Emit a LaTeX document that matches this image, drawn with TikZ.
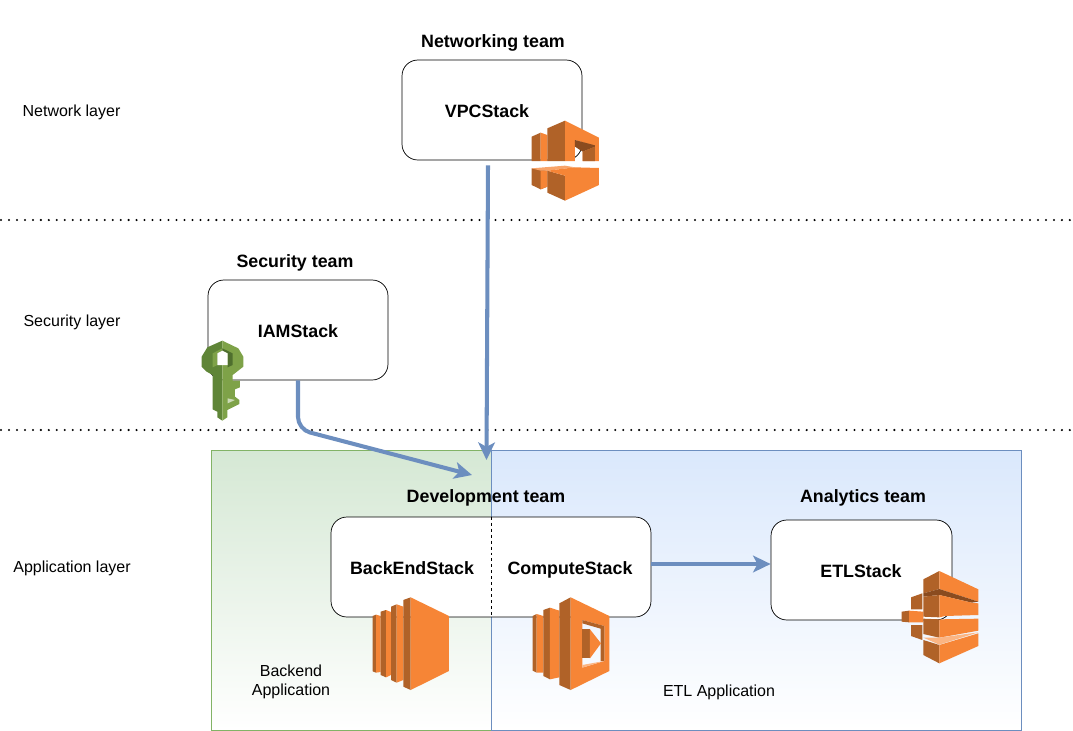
\documentclass[tikz,border=0pt]{standalone}
\usepackage{fontspec}
\setmainfont{Liberation Sans}
\usetikzlibrary{arrows.meta, calc}
\definecolor{my blue}{HTML}{6C8EBF}
\definecolor{my green}{HTML}{82B366}
\definecolor{my blue fill}{HTML}{DAE8FC}
\definecolor{my green fill}{HTML}{D5E8D4}
\definecolor{my orange}{HTML}{F68536}
\definecolor{my brown}{HTML}{B06228}
\definecolor{my roof}{HTML}{8A4B1F}
\definecolor{my pale}{HTML}{FBB583}
\definecolor{key light}{HTML}{7EA248}
\definecolor{key dark}{HTML}{5F8537}
\definecolor{key deep}{HTML}{4F6F2E}
\tikzset{
  appbox/.style={draw=#1, top color=#1 fill, bottom color=white, minimum height=5.6cm, inner sep=0pt},
  stackbox/.style={draw, fill=white, rounded corners=9pt, minimum height=2cm, inner sep=0pt},
  layerlabel/.style={font=\fontsize{9.1}{11}\selectfont, align=center},
  teamlabel/.style={font=\fontsize{10.15}{12}\selectfont\bfseries},
  deplink/.style={my blue, line width=2.3pt, -{Stealth[length=10pt, width=9.5pt, inset=2.5pt]}},
  layerline/.style={line width=1.3pt, line cap=round, dash pattern=on 0pt off 4.54pt},
  icon/.style={x=0.02cm/3, y=-0.02cm/3},
}
\begin{document}
\begin{tikzpicture}[x=0.02cm, y=-0.02cm]
    \useasboundingbox (0, 0) rectangle (1073, 731);

    % application areas
    \node [appbox=my green, minimum width=5.6cm] (backendapp) at (351, 590) {};
    \node [appbox=my blue, minimum width=10.6cm] (etlapp) at (756, 590) {};

    % layers
    \draw [layerline] (1, 220) -- (1072, 220);
    \draw [layerline] (1, 430) -- (1072, 430);
    \node [layerlabel] (networklayer) at (71.5, 112) {Network layer};
    \node [layerlabel] (securitylayer) at (72, 322) {Security layer};
    \node [layerlabel] (applayer) at (72, 568) {Application layer};

    % stacks
    \node [stackbox, minimum width=3.6cm] (vpc) at (492, 110) {};
    \node [stackbox, minimum width=3.6cm] (iam) at (298, 330) {};
    \node [stackbox, minimum width=6.4cm] (dev) at (491, 567) {};
    \node [stackbox, minimum width=3.62cm] (etl) at (861.5, 570) {};
    \draw [line width=0.4pt, dash pattern=on 1.7pt off 1.7pt] (dev.north) -- (dev.south);

    \node [teamlabel] (networkteam) at (493, 43) {Networking team};
    \node [teamlabel] (securityteam) at (295, 263) {Security team};
    \node [teamlabel] (devteam) at (486, 498) {Development team};
    \node [teamlabel] (analyticsteam) at (863, 498) {Analytics team};
    \node [teamlabel] (vpclabel) at (487, 111) {VPCStack};
    \node [teamlabel] (iamlabel) at (298, 331) {IAMStack};
    \node [teamlabel] (backendlabel) at (412, 568) {BackEndStack};
    \node [teamlabel] (computelabel) at (570, 570) {ComputeStack};
    \node [teamlabel] (etllabel) at (861, 571) {ETLStack};
    \node [layerlabel] (backendname) at (291, 682) {Backend\\Application};
    \node [layerlabel] (etlname) at (719, 692) {ETL Application};

    % VPC icon
    \begin{scope}[shift={(510, 100)}, icon]
        \fill [my brown] (65, 110) -- (92, 98) -- (92, 183) -- (65, 183) -- cycle;
        \fill [my orange] (92, 98) -- (112, 105) -- (112, 183) -- (92, 183) -- cycle;
        \fill [my brown] (112, 85) -- (165, 62) -- (165, 183) -- (112, 183) -- cycle;
        \fill [my orange] (165, 62) -- (267, 113) -- (267, 183) -- (218, 183) -- (218, 155) -- (255, 138) -- (195, 120) -- (195, 183) -- (165, 183) -- cycle;
        \fill [my roof] (195, 120) -- (255, 136) -- (255, 140) -- (218, 155) -- (195, 140) -- cycle;
        \fill [my brown] (218, 155) -- (255, 140) -- (255, 183) -- (218, 183) -- cycle;
        \fill [my brown] (65, 205) -- (112, 212) -- (112, 260) -- (92, 268) -- (65, 255) -- cycle;
        \fill [my orange] (92, 212) -- (112, 212) -- (112, 260) -- (92, 268) -- cycle;
        \fill [my orange!75!white] (65, 205) -- (165, 197) -- (195, 202) -- (112, 212) -- (92, 212) -- cycle;
        \fill [my brown] (112, 212) -- (165, 227) -- (165, 302) -- (112, 278) -- cycle;
        \fill [my orange] (165, 227) -- (112, 212) -- (195, 202) -- (267, 204) -- (267, 255) -- (165, 302) -- cycle;
    \end{scope}

    % key icon
    \begin{scope}[shift={(190, 330)}, icon]
        \fill [key dark] (97, 32) -- (52, 52) -- (35, 80) -- (35, 110) -- (50, 125) -- (68, 135) -- (68, 238) -- (82, 245) -- (82, 262) -- (97, 272) -- cycle;
        \fill [key light] (97, 32) -- (145, 55) -- (160, 80) -- (160, 110) -- (128, 135) -- (128, 152) -- (150, 152) -- (150, 172) -- (135, 178) -- (135, 200) -- (148, 210) -- (148, 222) -- (112, 240) -- (112, 262) -- (97, 272) -- cycle;
        \fill [key light] (68, 70) -- (97, 55) -- (97, 62) -- (82, 70) -- (82, 105) -- (68, 112) -- cycle;
        \fill [key deep] (97, 55) -- (128, 70) -- (128, 105) -- (113, 112) -- (113, 70) -- (97, 62) -- cycle;
        \fill [white] (82, 70) -- (97, 62) -- (113, 70) -- (113, 105) -- (82, 105) -- cycle;
        \fill [white!60!key light] (113, 205) -- (135, 210) -- (113, 220) -- cycle;
    \end{scope}

    % backend icon
    \begin{scope}[shift={(360, 590)}, icon]
        \fill [my brown] (38, 78) -- (48, 74) -- (48, 248) -- (38, 244) -- cycle;
        \fill [my orange] (48, 74) -- (62, 78) -- (62, 246) -- (48, 248) -- cycle;
        \fill [my brown] (62, 65) -- (78, 60) -- (78, 262) -- (62, 255) -- cycle;
        \fill [my orange] (78, 60) -- (93, 66) -- (93, 255) -- (78, 262) -- cycle;
        \fill [my brown] (93, 50) -- (110, 43) -- (110, 278) -- (93, 270) -- cycle;
        \fill [my orange] (110, 43) -- (130, 50) -- (130, 270) -- (110, 278) -- cycle;
        \fill [my brown] (130, 30) -- (152, 22) -- (152, 300) -- (130, 290) -- cycle;
        \fill [my orange] (152, 22) -- (267, 78) -- (267, 243) -- (152, 300) -- cycle;
    \end{scope}

    % compute icon
    \begin{scope}[shift={(360, 590)}, icon]
        \fill [my brown] (518, 78) -- (530, 72) -- (530, 248) -- (518, 242) -- cycle;
        \fill [my orange] (530, 72) -- (550, 78) -- (550, 248) -- (530, 248) -- cycle;
        \fill [my brown] (550, 60) -- (570, 53) -- (570, 268) -- (550, 258) -- cycle;
        \fill [my orange] (570, 53) -- (598, 62) -- (598, 262) -- (570, 268) -- cycle;
        \fill [my brown] (598, 40) -- (632, 22) -- (632, 300) -- (598, 285) -- cycle;
        \fill [my orange, even odd rule] (632, 22) -- (748, 78) -- (748, 243) -- (632, 300) -- cycle
            (667, 90) -- (733, 108) -- (733, 213) -- (667, 233) -- cycle;
        \fill [my brown] (667, 90) -- (733, 108) -- (733, 213) -- (722, 213) -- (722, 116) -- (667, 100) -- cycle;
        \fill [my pale] (667, 225) -- (733, 213) -- (667, 233) -- cycle;
        \fill [my brown] (667, 118) -- (690, 118) -- (690, 205) -- (667, 205) -- cycle;
        \fill [my orange] (690, 118) -- (723, 160) -- (690, 205) -- cycle;
    \end{scope}

    % ETL icon
    \begin{scope}[shift={(890, 560)}, icon]
        \fill [my brown] (63, 112) -- (97, 100) -- (97, 148) -- (63, 148) -- cycle;
        \fill [my brown] (63, 195) -- (97, 195) -- (97, 240) -- (63, 228) -- cycle;
        \fill [my brown] (35, 155) -- (57, 152) -- (57, 187) -- (35, 185) -- cycle;
        \fill [my orange] (57, 152) -- (100, 155) -- (100, 187) -- (57, 187) -- cycle;
        \fill [my brown] (100, 58) -- (148, 33) -- (148, 87) -- (100, 100) -- cycle;
        \fill [my orange] (148, 33) -- (265, 88) -- (265, 125) -- (148, 87) -- cycle;
        \fill [my roof] (100, 100) -- (148, 87) -- (265, 125) -- (245, 128) -- (148, 105) -- (100, 110) -- cycle;
        \fill [my brown] (100, 110) -- (148, 105) -- (148, 172) -- (100, 170) -- cycle;
        \fill [my orange] (148, 105) -- (245, 128) -- (265, 130) -- (265, 165) -- (165, 168) -- (148, 172) -- cycle;
        \fill [my brown] (100, 176) -- (148, 178) -- (148, 233) -- (100, 222) -- cycle;
        \fill [my orange] (148, 178) -- (265, 176) -- (265, 212) -- (148, 233) -- cycle;
        \fill [my pale] (100, 233) -- (148, 233) -- (265, 217) -- (148, 254) -- cycle;
        \fill [my brown] (100, 240) -- (148, 255) -- (148, 310) -- (100, 285) -- cycle;
        \fill [my orange] (148, 255) -- (265, 220) -- (265, 258) -- (148, 310) -- cycle;
    \end{scope}

    % dependencies
    \coordinate (vpcin) at (486.5, 460);
    \coordinate (devin) at (472, 475);
    \coordinate (etlin) at (771, 564);
    \draw [deplink] ($(vpc.south) + (-4, 5)$) -- (vpcin);
    \draw [deplink, rounded corners=7pt] (iam.south) -- ++(0, 49) -- (devin);
    \draw [deplink] (dev.east |- etlin) -- (etlin -| etl.west);
\end{tikzpicture}
\end{document}
